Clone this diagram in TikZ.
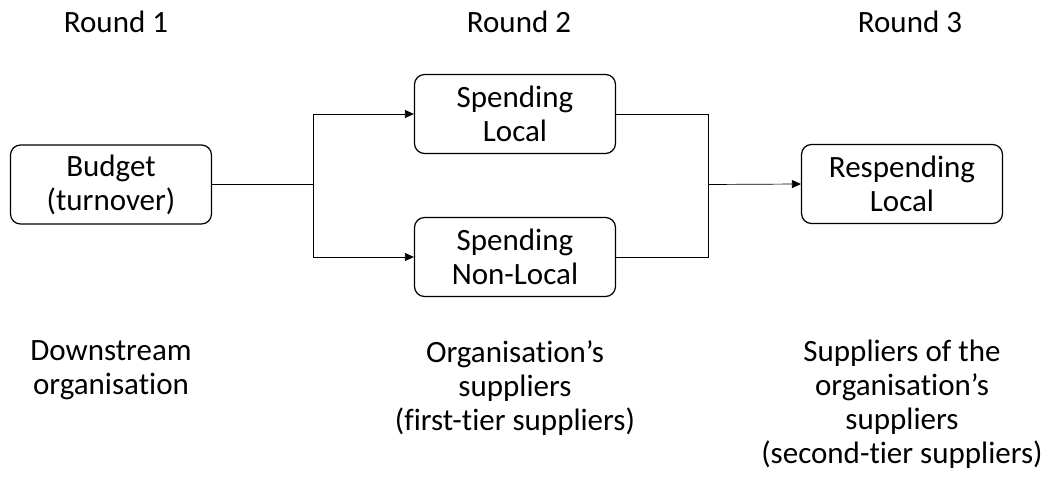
\documentclass[tikz,border=0pt]{standalone}
\usepackage{fontspec}
\setmainfont{Carlito}[Ligatures=NoCommon]
\usetikzlibrary{arrows.meta}

\begin{document}
\begin{tikzpicture}[x=1pt, y=-1pt,
  every node/.style={font=\fontsize{31}{34}\selectfont, inner sep=0pt},
  stage/.style={draw, line width=1.2pt, rounded corners=10pt, align=center,
    minimum width=201pt, minimum height=79pt},
  note/.style={align=center, anchor=north, execute at begin node={\strut}},
  link/.style={line width=0.7pt, -{Triangle[length=9pt, width=8pt]}}]
  \useasboundingbox (0, 0) rectangle (1049, 484);
  \node [anchor=base] (r1) at (116, 33) {Round 1};
  \node [anchor=base] (r2) at (519, 33) {Round 2};
  \node [anchor=base] (r3) at (910, 33) {Round 3};
  \node [stage] (budget) at (111, 184.5) {Budget\\(turnover)};
  \node [stage] (local) at (515, 114) {Spending\\Local};
  \node [stage] (nonlocal) at (515, 257) {Spending\\Non-Local};
  \node [stage] (respend) at (902, 184) {Respending\\Local};
  \coordinate (j1) at (313, 184.5);
  \coordinate (j2) at (708, 184.5);
  \draw [line width=0.7pt] (budget.east) -- (j1);
  \draw [link] (j1) |- (local.west);
  \draw [link] (j1) |- (nonlocal.west);
  \draw [line width=0.7pt] (local.east) -| (j2);
  \draw [line width=0.7pt] (nonlocal.east) -| (j2);
  \draw [link] (j2) -- (respend.west);
  \node [note] (down) at (111, 340) {Downstream\\organisation};
  \node [note] (first) at (515, 340) {Organisation’s\\suppliers\\(first-tier suppliers)};
  \node [note] (second) at (902, 340) {Suppliers of the\\organisation’s\\suppliers\\(second-tier suppliers)};
\end{tikzpicture}
\end{document}
